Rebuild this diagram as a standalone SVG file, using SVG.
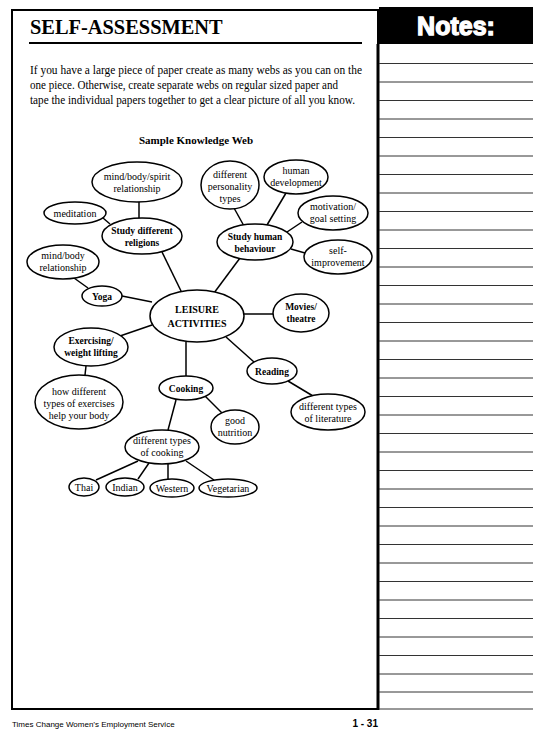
<svg xmlns="http://www.w3.org/2000/svg" width="544" height="739" viewBox="0 0 544 739">
<style>
.t{font-family:"Liberation Serif","Times New Roman",serif;font-size:10px;fill:#000;text-anchor:middle}
.b{font-weight:bold;font-size:9.5px}
.n{fill:#fff;stroke:#000;stroke-width:1.5}
.c line{stroke:#000;stroke-width:1.5}
.nl line{stroke:#333;stroke-width:1}
</style>
<rect x="0" y="0" width="544" height="739" fill="#fff"/>
<!-- frame -->
<g id="frame">
<rect x="12" y="10" width="366" height="699" fill="none" stroke="#000" stroke-width="2"/>
<line x1="378" y1="44" x2="378" y2="710" stroke="#000" stroke-width="3"/>
<text x="30" y="34" font-family="Liberation Serif,serif" font-size="20.4" font-weight="bold">SELF-ASSESSMENT</text>
<line x1="29" y1="43" x2="362" y2="43" stroke="#000" stroke-width="2"/>
<g font-family="Liberation Serif,serif" font-size="12">
<text x="30" y="74" textLength="332" lengthAdjust="spacingAndGlyphs">If you have a large piece of paper create as many webs as you can on the</text>
<text x="30" y="89" textLength="308" lengthAdjust="spacingAndGlyphs">one piece. Otherwise, create separate webs on regular sized paper and</text>
<text x="30" y="104" textLength="325" lengthAdjust="spacingAndGlyphs">tape the individual papers together to get a clear picture of all you know.</text>
</g>
<text x="196" y="144" font-family="Liberation Serif,serif" font-size="11" font-weight="bold" text-anchor="middle">Sample Knowledge Web</text>
</g>
<!-- notes -->
<g id="notes">
<rect x="379" y="7" width="154" height="37" fill="#000"/>
<text x="456" y="35" font-family="Liberation Sans,Arial,sans-serif" font-size="25" font-weight="bold" fill="#fff" stroke="#fff" stroke-width="1.3" text-anchor="middle">Notes:</text>
<g class="nl">
<line x1="379" y1="63.5" x2="533" y2="63.5"/><line x1="379" y1="82" x2="533" y2="82"/><line x1="379" y1="100.5" x2="533" y2="100.5"/><line x1="379" y1="119" x2="533" y2="119"/><line x1="379" y1="137.5" x2="533" y2="137.5"/><line x1="379" y1="156" x2="533" y2="156"/><line x1="379" y1="174.5" x2="533" y2="174.5"/><line x1="379" y1="193" x2="533" y2="193"/><line x1="379" y1="211.5" x2="533" y2="211.5"/><line x1="379" y1="230" x2="533" y2="230"/><line x1="379" y1="248.5" x2="533" y2="248.5"/><line x1="379" y1="267" x2="533" y2="267"/><line x1="379" y1="285.5" x2="533" y2="285.5"/><line x1="379" y1="304" x2="533" y2="304"/><line x1="379" y1="322.5" x2="533" y2="322.5"/><line x1="379" y1="341" x2="533" y2="341"/><line x1="379" y1="359.5" x2="533" y2="359.5"/><line x1="379" y1="378" x2="533" y2="378"/><line x1="379" y1="396.5" x2="533" y2="396.5"/><line x1="379" y1="415" x2="533" y2="415"/><line x1="379" y1="433.5" x2="533" y2="433.5"/><line x1="379" y1="452" x2="533" y2="452"/><line x1="379" y1="470.5" x2="533" y2="470.5"/><line x1="379" y1="489" x2="533" y2="489"/><line x1="379" y1="507.5" x2="533" y2="507.5"/><line x1="379" y1="526" x2="533" y2="526"/><line x1="379" y1="544.5" x2="533" y2="544.5"/><line x1="379" y1="563" x2="533" y2="563"/><line x1="379" y1="581.5" x2="533" y2="581.5"/><line x1="379" y1="600" x2="533" y2="600"/><line x1="379" y1="618.5" x2="533" y2="618.5"/><line x1="379" y1="637" x2="533" y2="637"/><line x1="379" y1="655.5" x2="533" y2="655.5"/><line x1="379" y1="674" x2="533" y2="674"/><line x1="379" y1="692" x2="533" y2="692"/><line x1="379" y1="709" x2="533" y2="709"/>
</g>
</g>
<!-- connectors -->
<g id="connectors" class="c">
<line x1="162" y1="252" x2="182" y2="293"/>
<line x1="240" y1="258" x2="214" y2="293"/>
<line x1="122" y1="296" x2="152" y2="302"/>
<line x1="244" y1="314" x2="273" y2="314"/>
<line x1="120" y1="336" x2="152" y2="325"/>
<line x1="186" y1="342" x2="186" y2="376"/>
<line x1="226" y1="337" x2="254" y2="362"/>
<line x1="139" y1="202" x2="139" y2="219"/>
<line x1="103" y1="218" x2="110" y2="224"/>
<line x1="88" y1="288" x2="74" y2="278"/>
<line x1="234" y1="208" x2="244" y2="226"/>
<line x1="286" y1="193" x2="267" y2="225"/>
<line x1="302" y1="222" x2="287" y2="232"/>
<line x1="291" y1="249" x2="305" y2="253"/>
<line x1="86" y1="366" x2="85" y2="375"/>
<line x1="176" y1="400" x2="168" y2="430"/>
<line x1="205" y1="396" x2="222" y2="413"/>
<line x1="288" y1="381" x2="313" y2="396"/>
<line x1="138" y1="461" x2="96" y2="480"/>
<line x1="149" y1="463" x2="138" y2="479"/>
<line x1="168" y1="464" x2="168" y2="479"/>
<line x1="186" y1="461" x2="214" y2="480"/>
</g>
<!-- nodes -->
<g id="n-leisure"><ellipse class="n" cx="197" cy="316" rx="47" ry="26" stroke-width="3"/><text class="t" x="197" y="313" font-weight="bold" font-size="12">LEISURE</text><text class="t" x="197" y="327" font-weight="bold" font-size="12">ACTIVITIES</text></g>
<g id="n-mbs"><ellipse class="n" cx="137" cy="182" rx="45" ry="20"/><text class="t" x="137" y="180">mind/body/spirit</text><text class="t" x="137" y="192">relationship</text></g>
<g id="n-meditation"><ellipse class="n" cx="75" cy="213" rx="31" ry="11"/><text class="t" x="75" y="216.5">meditation</text></g>
<g id="n-religions"><ellipse class="n" cx="142" cy="236" rx="40" ry="18"/><text class="t b" x="142" y="234">Study different</text><text class="t b" x="142" y="246">religions</text></g>
<g id="n-mb"><ellipse class="n" cx="63" cy="262" rx="36" ry="17"/><text class="t" x="63" y="259">mind/body</text><text class="t" x="63" y="271">relationship</text></g>
<g id="n-yoga"><ellipse class="n" cx="102" cy="296" rx="20" ry="10"/><text class="t b" x="102" y="299.5">Yoga</text></g>
<g id="n-personality"><ellipse class="n" cx="230" cy="185" rx="29" ry="24"/><text class="t" x="230" y="178">different</text><text class="t" x="230" y="190">personality</text><text class="t" x="230" y="202">types</text></g>
<g id="n-humandev"><ellipse class="n" cx="296" cy="177" rx="32" ry="17"/><text class="t" x="296" y="174">human</text><text class="t" x="296" y="186">development</text></g>
<g id="n-motivation"><ellipse class="n" cx="333" cy="213" rx="35" ry="17"/><text class="t" x="333" y="210">motivation/</text><text class="t" x="333" y="222">goal setting</text></g>
<g id="n-behaviour"><ellipse class="n" cx="255" cy="242" rx="38" ry="18"/><text class="t b" x="255" y="240">Study human</text><text class="t b" x="255" y="252">behaviour</text></g>
<g id="n-self"><ellipse class="n" cx="338" cy="257" rx="34" ry="17"/><text class="t" x="338" y="254">self-</text><text class="t" x="338" y="266">improvement</text></g>
<g id="n-movies"><ellipse class="n" cx="301" cy="313" rx="28" ry="19"/><text class="t b" x="301" y="310">Movies/</text><text class="t b" x="301" y="322">theatre</text></g>
<g id="n-exercising"><ellipse class="n" cx="91" cy="347" rx="37" ry="19"/><text class="t b" x="91" y="344">Exercising/</text><text class="t b" x="91" y="356">weight lifting</text></g>
<g id="n-reading"><ellipse class="n" cx="272" cy="371" rx="25" ry="13"/><text class="t b" x="272" y="374.5">Reading</text></g>
<g id="n-cooking"><ellipse class="n" cx="186" cy="388" rx="27" ry="12"/><text class="t b" x="186" y="391.5">Cooking</text></g>
<g id="n-howdiff"><ellipse class="n" cx="79" cy="402" rx="44" ry="27"/><text class="t" x="79" y="395">how different</text><text class="t" x="79" y="407">types of exercises</text><text class="t" x="79" y="419">help your body</text></g>
<g id="n-literature"><ellipse class="n" cx="328" cy="412" rx="37" ry="18"/><text class="t" x="328" y="410">different types</text><text class="t" x="328" y="422">of literature</text></g>
<g id="n-nutrition"><ellipse class="n" cx="235" cy="427" rx="24" ry="17"/><text class="t" x="235" y="424">good</text><text class="t" x="235" y="436">nutrition</text></g>
<g id="n-cooktypes"><ellipse class="n" cx="162" cy="447" rx="37" ry="17"/><text class="t" x="162" y="444">different types</text><text class="t" x="162" y="456">of cooking</text></g>
<g id="n-thai"><ellipse class="n" cx="84" cy="487" rx="15" ry="9"/><text class="t" x="84" y="490.5">Thai</text></g>
<g id="n-indian"><ellipse class="n" cx="125" cy="487" rx="19" ry="9"/><text class="t" x="125" y="490.5">Indian</text></g>
<g id="n-western"><ellipse class="n" cx="172" cy="488" rx="22" ry="9"/><text class="t" x="172" y="491.5">Western</text></g>
<g id="n-vegetarian"><ellipse class="n" cx="228" cy="488" rx="29" ry="9"/><text class="t" x="228" y="491.5">Vegetarian</text></g>
<!-- footer -->
<g id="footer" font-family="Liberation Sans,Arial,sans-serif">
<text x="12" y="727" font-size="8">Times Change Women’s Employment Service</text>
<text x="378" y="727" font-size="10" font-weight="bold" text-anchor="end">1 - 31</text>
</g>
</svg>
